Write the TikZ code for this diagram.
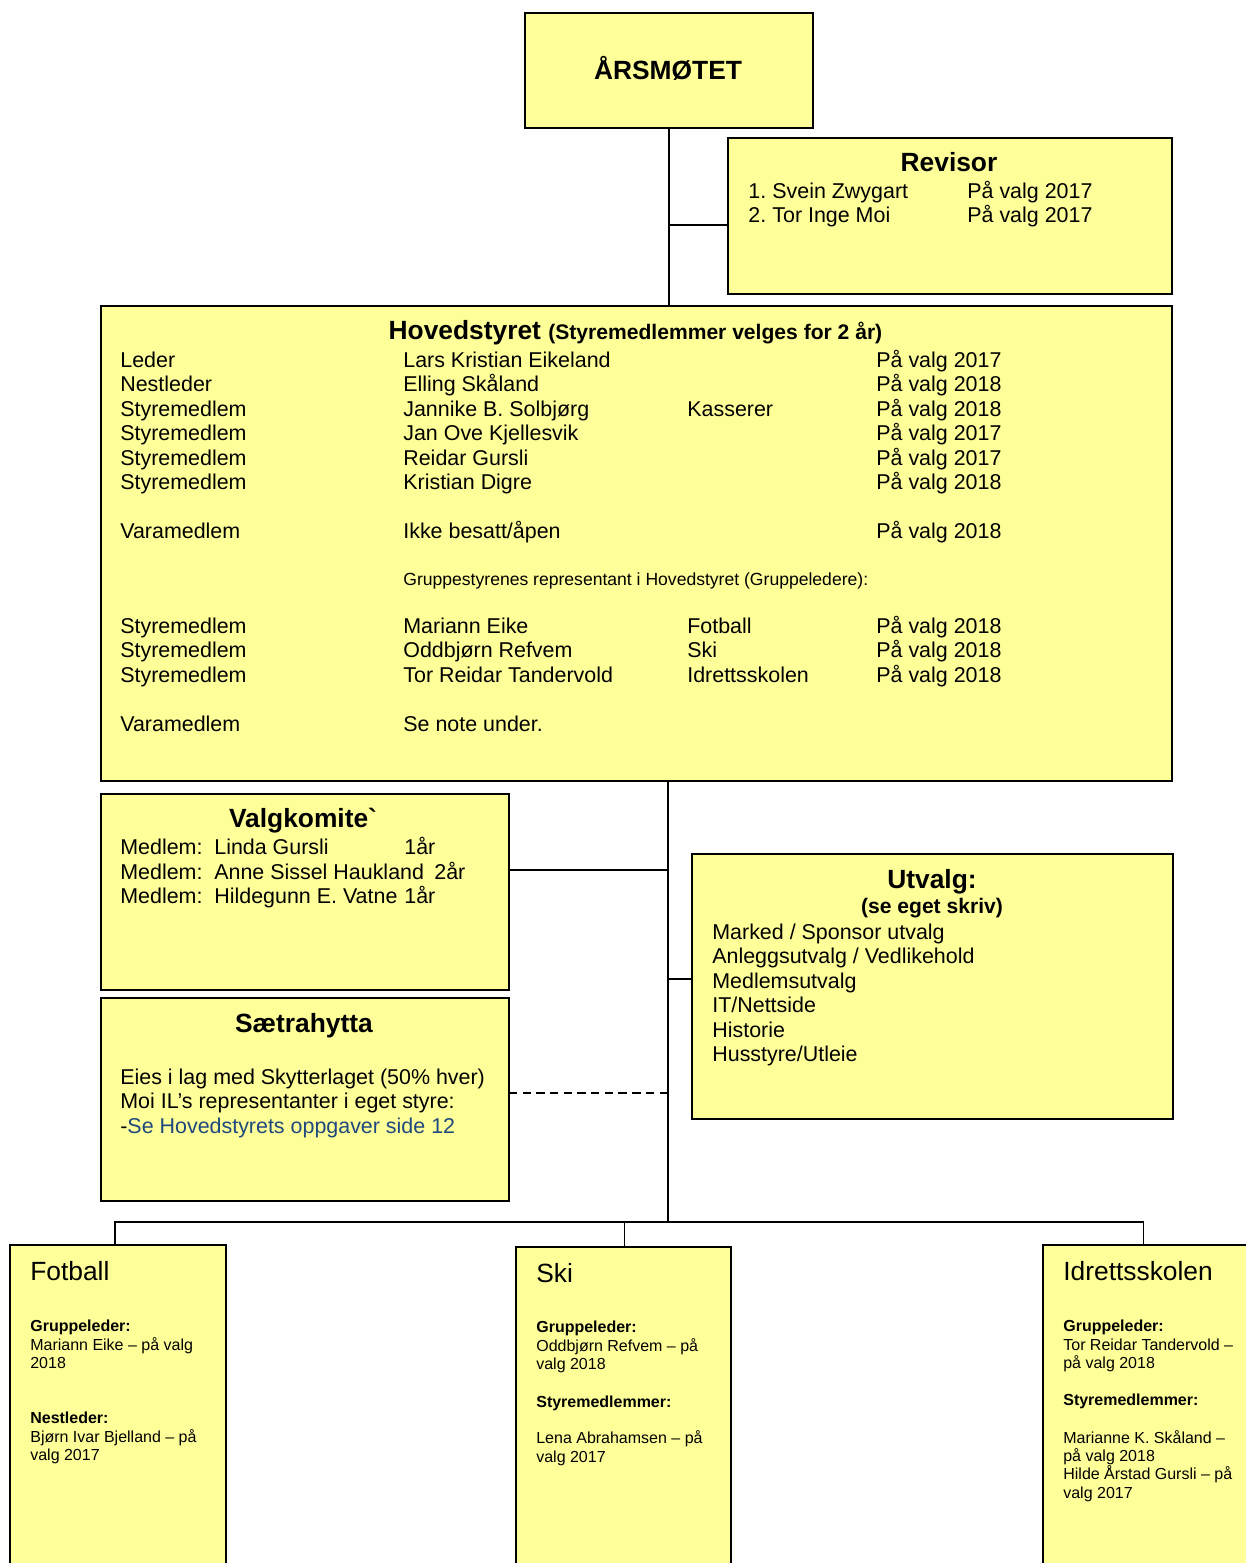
\documentclass[tikz,border=0pt]{standalone}
\usepackage{fontspec}
\setmainfont{Liberation Sans}
\usetikzlibrary{calc,positioning}
\definecolor{boxyellow}{HTML}{FFFF99}
\definecolor{linkblue}{HTML}{1F497D}

\begin{document}
\begin{tikzpicture}[x=0.02cm, y=-0.02cm,
    box/.style={draw=black, fill=boxyellow, line width=1pt, anchor=north west, inner sep=0pt},
    txt/.style={anchor=base west, inner sep=0pt, font=\fontsize{12.2}{14}\selectfont},
    boxtitle/.style={anchor=base, inner sep=0pt, font=\fontsize{15}{18}\selectfont\bfseries},
    grouptitle/.style={anchor=base west, inner sep=0pt, font=\fontsize{15}{18}\selectfont},
    groupline/.style={anchor=base west, inner sep=0pt, font=\fontsize{9.1}{10.5}\selectfont},
    connector/.style={draw=black, line width=1pt}]
    \useasboundingbox (0,0) rectangle (1245,1563);

    \node[box, minimum width=5.76cm, minimum height=2.30cm] (aarsmoetet) at (524,12) {};
    \node[box, minimum width=8.88cm, minimum height=3.12cm] (revisor) at (727,137) {};
    \node[box, minimum width=21.42cm, minimum height=9.50cm] (hovedstyret) at (100,305) {};
    \node[box, minimum width=8.16cm, minimum height=3.92cm] (valgkomite) at (100,793) {};
    \node[box, minimum width=8.16cm, minimum height=4.06cm] (saetrahytta) at (100,997) {};
    \node[box, minimum width=9.62cm, minimum height=5.30cm] (utvalg) at (691,853) {};
    \node[box, minimum width=4.32cm, minimum height=7.50cm] (fotball) at (9,1244) {};
    \node[box, minimum width=4.30cm, minimum height=7.50cm] (ski) at (515,1246) {};
    \node[box, minimum width=5.00cm, minimum height=7.50cm] (idrett) at (1042,1244) {};

    \node[boxtitle] (aarsmoetet_title) at (668,79) {ÅRSMØTET};

    \node[boxtitle] (revisor_title) at (949,171) {Revisor};
    \foreach \yy/\nr/\name [count=\i] in {198/1./Svein Zwygart, 222/2./Tor Inge Moi} {
      \node[txt] (revisor_nr_\i) at (748,\yy) {\nr};
      \node[txt] (revisor_name_\i) at (772,\yy) {\name};
      \node[txt] (revisor_valg_\i) at (967,\yy) {På valg 2017};
    }

    \node[boxtitle] (hovedstyret_title) at (635.5,339)
      {Hovedstyret {\fontsize{12}{14}\selectfont (Styremedlemmer velges for 2 år)}};
    \foreach \yy/\role/\name/\extra/\valg [count=\i] in {
      367/Leder/Lars Kristian Eikeland//På valg 2017,
      391/Nestleder/Elling Skåland//På valg 2018,
      416/Styremedlem/Jannike B. Solbjørg/Kasserer/På valg 2018,
      440/Styremedlem/Jan Ove Kjellesvik//På valg 2017,
      465/Styremedlem/Reidar Gursli//På valg 2017,
      489/Styremedlem/Kristian Digre//På valg 2018,
      538/Varamedlem/{Ikke besatt/åpen}//På valg 2018,
      633/Styremedlem/Mariann Eike/Fotball/På valg 2018,
      657/Styremedlem/Oddbjørn Refvem/Ski/På valg 2018,
      682/Styremedlem/Tor Reidar Tandervold/Idrettsskolen/På valg 2018,
      731/Varamedlem/Se note under.//} {
      \node[txt] (hs_role_\i) at (120,\yy) {\role};
      \node[txt] (hs_name_\i) at (403,\yy) {\name};
      \node[txt] (hs_extra_\i) at (687,\yy) {\extra};
      \node[txt] (hs_valg_\i) at (876,\yy) {\valg};
    }
    \node[txt, font=\fontsize{10}{12}\selectfont] (hs_note) at (403,585)
      {Gruppestyrenes representant i Hovedstyret (Gruppeledere):};

    \node[boxtitle] (valgkomite_title) at (303,827) {Valgkomite\textasciigrave};
    \foreach \yy/\name/\aar/\ax [count=\i] in {854/Linda Gursli/1år/404,
      879/Anne Sissel Haukland/2år/434, 903/Hildegunn E. Vatne/1år/404} {
      \node[txt] (valgkomite_role_\i) at (120,\yy) {Medlem:};
      \node[txt] (valgkomite_name_\i) at (214,\yy) {\name};
      \node[txt] (valgkomite_aar_\i) at (\ax,\yy) {\aar};
    }

    \node[boxtitle] (saetrahytta_title) at (304,1032) {Sætrahytta};
    \node[txt] (saetrahytta_line_1) at (120,1084) {Eies i lag med Skytterlaget (50\% hver)};
    \node[txt] (saetrahytta_line_2) at (120,1108) {Moi IL's representanter i eget styre:};
    \node[txt] (saetrahytta_line_3) at (120,1133)
      {-{\color{linkblue}Se Hovedstyrets oppgaver side 12}};

    \node[boxtitle] (utvalg_title) at (932,888) {Utvalg:};
    \node[boxtitle, font=\fontsize{12}{14}\selectfont\bfseries] (utvalg_sub) at (932,913) {(se eget skriv)};
    \foreach \yy/\txt [count=\i] in {939/{Marked / Sponsor utvalg}, 963/{Anleggsutvalg / Vedlikehold},
      988/Medlemsutvalg, 1012/{IT/Nettside}, 1037/Historie, 1061/{Husstyre/Utleie}} {
      \node[txt] (utvalg_line_\i) at (712,\yy) {\txt};
    }

    \node[grouptitle] (fotball_title) at (30,1280) {Fotball};
    \foreach \yy/\txt [count=\i] in {1331/\textbf{Gruppeleder:}, 1350/Mariann Eike – på valg,
      1368/2018, 1423/\textbf{Nestleder:}, 1442/Bjørn Ivar Bjelland – på, 1460/valg 2017} {
      \node[groupline] (fotball_line_\i) at (30,\yy) {\txt};
    }

    \node[grouptitle] (ski_title) at (536,1282) {Ski};
    \foreach \yy/\txt [count=\i] in {1332/\textbf{Gruppeleder:}, 1351/Oddbjørn Refvem – på,
      1369/valg 2018, 1407/\textbf{Styremedlemmer:}, 1443/Lena Abrahamsen – på, 1462/valg 2017} {
      \node[groupline] (ski_line_\i) at (536,\yy) {\txt};
    }

    \node[grouptitle] (idrett_title) at (1063,1280) {Idrettsskolen};
    \foreach \yy/\txt [count=\i] in {1331/\textbf{Gruppeleder:}, 1350/Tor Reidar Tandervold –,
      1368/på valg 2018, 1405/\textbf{Styremedlemmer:}, 1443/Marianne K. Skåland –,
      1461/på valg 2018, 1479/Hilde Årstad Gursli – på, 1498/valg 2017} {
      \node[groupline] (idrett_line_\i) at (1063,\yy) {\txt};
    }

    \coordinate (revisor_join) at (668,225);
    \coordinate (valgkomite_join) at (668,870);
    \coordinate (utvalg_join) at (668,979);
    \coordinate (saetrahytta_join) at (668,1093);
    \coordinate (bus_center) at (668,1222);
    \coordinate (bus_fotball) at (115,1222);
    \coordinate (bus_ski) at (624.5,1222);
    \coordinate (bus_idrett) at (1143.5,1222);

    \draw[connector] (aarsmoetet.south) -- (aarsmoetet.south |- hovedstyret.north);
    \draw[connector] (revisor_join) -- (revisor_join -| revisor.west);
    \draw[connector] (bus_center |- hovedstyret.south) -- (bus_center);
    \draw[connector] (valgkomite_join) -- (valgkomite_join -| valgkomite.east);
    \draw[connector] (utvalg_join) -- (utvalg_join -| utvalg.west);
    \draw[connector, dash pattern=on 4.8pt off 3pt] (saetrahytta_join) -- (saetrahytta_join -| saetrahytta.east);
    \draw[connector] (bus_fotball |- fotball.north) -- (bus_fotball) -- (bus_idrett) -- (bus_idrett |- idrett.north);
    \draw[connector] (bus_ski) -- (bus_ski |- ski.north);
  \end{tikzpicture}
\end{document}
